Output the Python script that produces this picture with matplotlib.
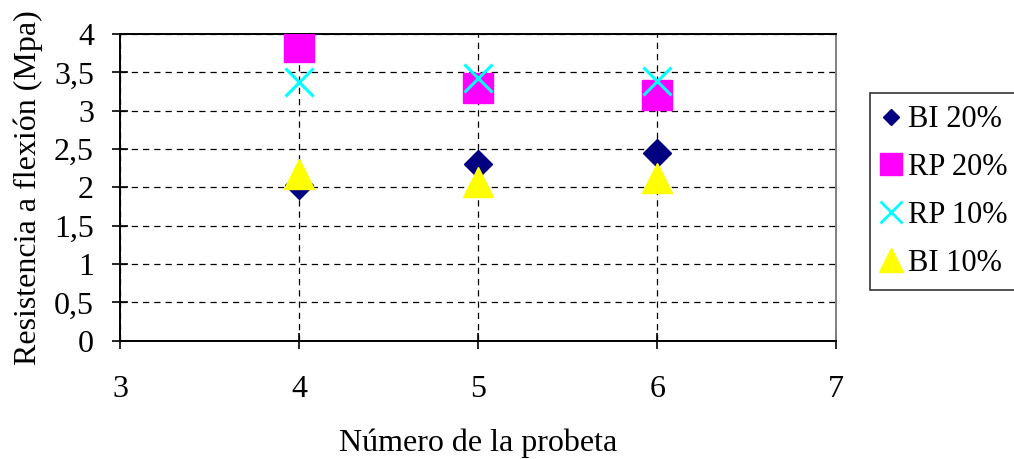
import matplotlib
matplotlib.use("Agg")
import matplotlib.pyplot as plt
from matplotlib.lines import Line2D

plt.rcParams["font.family"] = ["Liberation Serif", "DejaVu Serif"]

# probe numbers and bending strength (MPa) for each mix
probetas = [4, 5, 6]
bi_20 = [2.03, 2.31, 2.45]
rp_20 = [3.83, 3.30, 3.20]
rp_10 = [3.37, 3.42, 3.39]
bi_10 = [2.17, 2.07, 2.12]

x_ticks = [3, 4, 5, 6, 7]
y_ticks = [0, 0.5, 1, 1.5, 2, 2.5, 3, 3.5, 4]
y_labels = ["0", "0,5", "1", "1,5", "2", "2,5", "3", "3,5", "4"]

fig = plt.figure(figsize=(10.14, 4.59), dpi=100)
ax = fig.add_axes([0.1183, 0.2576, 0.7065, 0.6683])

ax.plot(probetas, bi_20, linestyle="none", marker="D", markersize=14.5,
        color="#000080", zorder=3)
ax.plot(probetas, rp_20, linestyle="none", marker="s", markersize=21,
        color="#ff00ff", zorder=3)
ax.plot(probetas, rp_10, linestyle="none", marker="x", markersize=20,
        markeredgewidth=2.2, color="#00ffff", zorder=4)
ax.plot(probetas, bi_10, linestyle="none", marker="^", markersize=21,
        color="#ffff00", zorder=5)

ax.set_xlim(3, 7)
ax.set_ylim(0, 4)
ax.set_xticks(x_ticks)
ax.set_yticks(y_ticks)
ax.set_yticklabels(y_labels)
ax.tick_params(axis="both", direction="inout", length=12, width=1.2,
               labelsize=23, color="black")
ax.tick_params(axis="x", pad=18.5)
ax.tick_params(axis="y", pad=12.6)

ax.grid(True, color="black", linestyle=(0, (5, 4)), linewidth=0.9)
ax.set_axisbelow(True)

for side in ["left", "bottom", "top"]:
    ax.spines[side].set_color("black")
    ax.spines[side].set_linewidth(1.4)
ax.spines["right"].set_color("#808080")
ax.spines["right"].set_linewidth(1.4)

ax.set_xlabel("Número de la probeta", fontsize=23, labelpad=17.5)
ax.set_ylabel("Resistencia a flexión (Mpa)", fontsize=23, labelpad=8)

handles = [
    Line2D([], [], linestyle="none", marker="D", markersize=8.5,
           color="#000080", label="BI 20%"),
    Line2D([], [], linestyle="none", marker="s", markersize=16,
           color="#ff00ff", label="RP 20%"),
    Line2D([], [], linestyle="none", marker="x", markersize=16,
           markeredgewidth=2, color="#00ffff", label="RP 10%"),
    Line2D([], [], linestyle="none", marker="^", markersize=17,
           color="#ffff00", label="BI 10%"),
]
leg = fig.legend(handles=handles, loc="upper left",
                 bbox_to_anchor=(870 / 1014, 1 - 93 / 459),
                 fontsize=22, frameon=True, fancybox=False,
                 edgecolor="black", borderpad=0.4, labelspacing=0.62,
                 handlelength=0.6, handletextpad=0.25, borderaxespad=0)
leg.get_frame().set_linewidth(1.2)

fig.savefig("out.png", dpi=100)
